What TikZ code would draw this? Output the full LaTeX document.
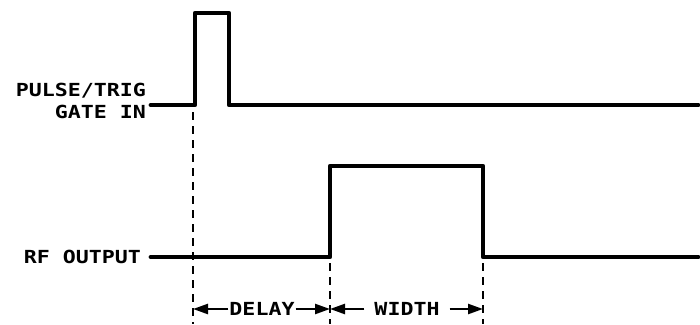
\documentclass[tikz,border=0pt]{standalone}
\usepackage{fontspec}
\newfontfamily\plotfont[FakeStretch=1.2]{DejaVu Sans Mono Bold}
\usetikzlibrary{arrows.meta}
\begin{document}
\begin{tikzpicture}[x=1pt,y=-1pt,
  trace/.style={line width=4.8pt,line join=round,line cap=round},
  guide/.style={line width=2.4pt,dash pattern=on 8pt off 6pt},
  dim/.style={line width=2.4pt,-{Triangle[length=15pt,width=10pt]}},
  lbl/.style={font=\plotfont\fontsize{18}{22}\selectfont,inner sep=0pt}]
\useasboundingbox (0,0) rectangle (700,324);
% labels
\node[lbl,align=right,anchor=east] (gatelbl) at (146,101) {PULSE/TRIG\\GATE IN};
\node[lbl,anchor=east] (rflbl) at (141,257) {RF OUTPUT};
% gate trace
\coordinate (g0) at (151,105);
\coordinate (g1) at (195,105);
\coordinate (g2) at (195,13);
\coordinate (g3) at (229,13);
\coordinate (g4) at (229,105);
\coordinate (g5) at (698,105);
\draw[trace] (g0) -- (g1) -- (g2) -- (g3) -- (g4) -- (g5);
% rf trace
\coordinate (r0) at (151,257);
\coordinate (r1) at (330,257);
\coordinate (r2) at (330,166);
\coordinate (r3) at (483,166);
\coordinate (r4) at (483,257);
\coordinate (r5) at (698,257);
\draw[trace] (r0) -- (r1) -- (r2) -- (r3) -- (r4) -- (r5);
% guides
\coordinate (d1a) at (193,112);
\coordinate (d1b) at (193,324);
\coordinate (d2a) at (330,263);
\coordinate (d2b) at (330,324);
\coordinate (d3a) at (483,263);
\coordinate (d3b) at (483,324);
\draw[guide] (d1a) -- (d1b);
\draw[guide] (d2a) -- (d2b);
\draw[guide] (d3a) -- (d3b);
% dimensions
\node[lbl,inner xsep=1pt] (delay) at (262,309) {DELAY};
\node[lbl,inner xsep=10pt] (width) at (407,309) {WIDTH};
\draw[dim] (delay.west) -- (d1a |- delay.west);
\draw[dim] (delay.east) -- (d2a |- delay.east);
\draw[dim] (width.west) -- (d2a |- width.west);
\draw[dim] (width.east) -- (d3a |- width.east);
\end{tikzpicture}
\end{document}
